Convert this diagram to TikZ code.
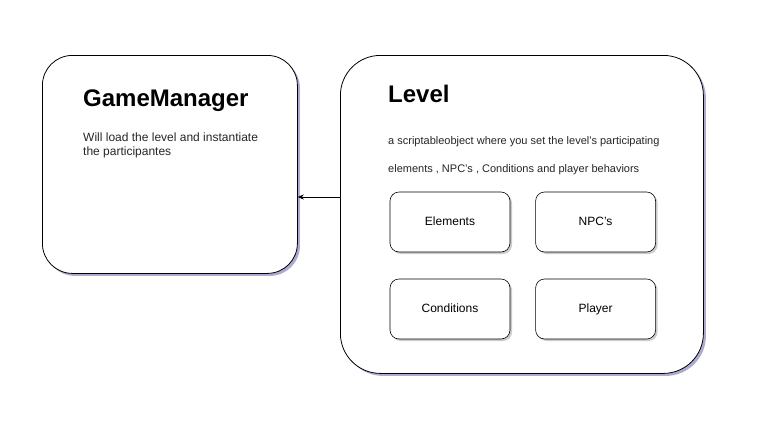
\documentclass[tikz,border=0pt]{standalone}
\usepackage{fontspec}
\setmainfont{Liberation Sans}
\usetikzlibrary{positioning,shadows,arrows.meta}

\begin{document}
\begin{tikzpicture}
            [%%%%%%%%%%%%%%%%%%%%%%%%%%%%%%%%%%%%%%%%%%%%%%%%%%%%%%%%%%
                x=1pt,y=-1pt,>={Stealth[length=6pt,width=5pt]},
                bigbox/.style={draw,thick,fill=white,anchor=north west,
                               drop shadow={shadow xshift=2.5pt,shadow yshift=-2.5pt,
                                            fill=blue!30!gray,opacity=.5}},
                part/.style={draw,semithick,fill=white,rounded corners=9pt,
                             minimum width=120pt,minimum height=60pt,
                             text height=1.6ex,text depth=.3ex,
                             font=\fontsize{12}{14}\selectfont,
                             drop shadow={shadow xshift=2pt,shadow yshift=-2pt,
                                          fill=gray,opacity=.4}},
                title/.style={anchor=west,inner sep=0pt,font=\fontsize{24}{28}\selectfont\bfseries},
                body/.style={anchor=west,inner sep=0pt,text=black!85}
            ]%%%%%%%%%%%%%%%%%%%%%%%%%%%%%%%%%%%%%%%%%%%%%%%%%%%%%%%%%%
            \useasboundingbox (0,0) rectangle (766,421);
            \node[bigbox,rounded corners=30pt,minimum width=255pt,minimum height=218pt] (manager) at (42,55) {};
            \node[bigbox,rounded corners=40pt,minimum width=363pt,minimum height=318pt] (level) at (340,55) {};

            \node[title] (managertitle) at (83,101) {GameManager};
            \node[body,font=\fontsize{12}{14}\selectfont] (managertext1) at (83,137) {Will load the level and instantiate};
            \node[body,font=\fontsize{12}{14}\selectfont] (managertext2) at (83,152) {the participantes};

            \node[title] (leveltitle) at (388,94) {Level};
            \node[body,font=\fontsize{11}{13}\selectfont] (leveltext1) at (388,142) {a scriptableobject where you set the level's participating};
            \node[body,font=\fontsize{11}{13}\selectfont] (leveltext2) at (388,170) {elements , NPC's , Conditions and player behaviors};

            \node[part] (elements) at (450,222) {Elements};
            \node[part] (npcs) [right=25pt of elements] {NPC's};
            \node[part] (conditions) at (450,309) {Conditions};
            \node[part] (player) [right=25pt of conditions] {Player};

            \coordinate (link) at (0,197);
            \draw [->] (level.west |- link) to (manager.east |- link);
        \end{tikzpicture}
\end{document}
